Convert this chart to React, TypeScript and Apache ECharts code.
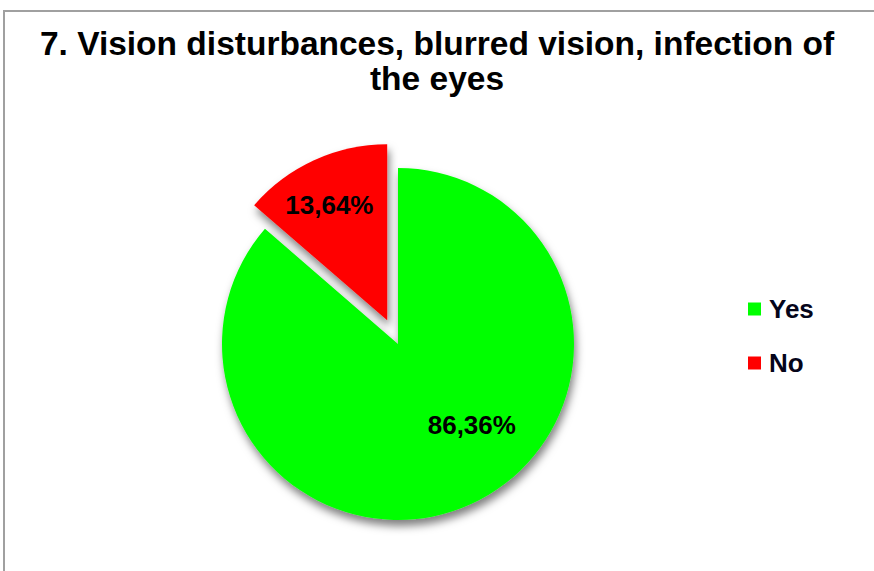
import React, { useEffect, useRef } from "react";
import * as echarts from "echarts";

const TITLE = "7. Vision disturbances, blurred vision, infection of\nthe eyes";
const categories = ["Yes", "No"];
const values = [86.36, 13.64];
const colors = ["#00ff00", "#ff0000"];

export default function App() {
  const ref = useRef<HTMLDivElement>(null);
  useEffect(() => {
    document.body.style.margin = "0";
    const chart = echarts.init(ref.current!, null, { renderer: "svg" });
    const labelShift = [
      { dx: 36, dy: -2 },
      { dx: -20, dy: -33 },
    ];
    chart.setOption({
      animation: false,
      backgroundColor: "#ffffff",
      title: {
        text: TITLE,
        left: "center",
        top: 21,
        textStyle: {
          fontFamily: "Liberation Sans, Arial",
          fontWeight: "bold",
          fontSize: 33.5,
          color: "#000000",
          lineHeight: 35,
        },
      },
      graphic: [
        {
          type: "rect",
          shape: { x: 4, y: 11, width: 900, height: 600 },
          style: { fill: "none", stroke: "#a0a0a0", lineWidth: 2 },
          silent: true,
          z: -1,
        },
      ],
      legend: {
        orient: "vertical",
        left: 743,
        top: 291,
        itemWidth: 13,
        itemHeight: 13,
        itemGap: 28,
        icon: "rect",
        selectedMode: false,
        textStyle: {
          fontFamily: "Liberation Sans, Arial",
          fontWeight: "bold",
          fontSize: 26,
          color: "#05051a",
          padding: [0, 0, 0, 3],
        },
        data: categories,
      },
      series: [
        {
          type: "pie",
          center: [398, 344],
          radius: 176,
          startAngle: 90,
          clockwise: true,
          selectedMode: "single",
          selectedOffset: 26,
          emphasis: { disabled: true },
          itemStyle: {
            shadowBlur: 9,
            shadowColor: "rgba(0,0,0,0.5)",
            shadowOffsetX: 2,
            shadowOffsetY: 6,
          },
          label: {
            show: true,
            position: "inside",
            fontFamily: "Liberation Sans, Arial",
            fontWeight: "bold",
            fontSize: 26,
            color: "#000000",
            formatter: (p: any) => p.value.toFixed(2).replace(".", ",") + "%",
          },
          labelLayout: (p: any) => labelShift[p.dataIndex],
          labelLine: { show: false },
          data: categories.map((c, i) => ({
            name: c,
            value: values[i],
            selected: i === 1,
            itemStyle: { color: colors[i] },
          })),
        },
      ],
    });
    return () => chart.dispose();
  }, []);
  return <div ref={ref} style={{ width: 874, height: 571 }} />;
}
